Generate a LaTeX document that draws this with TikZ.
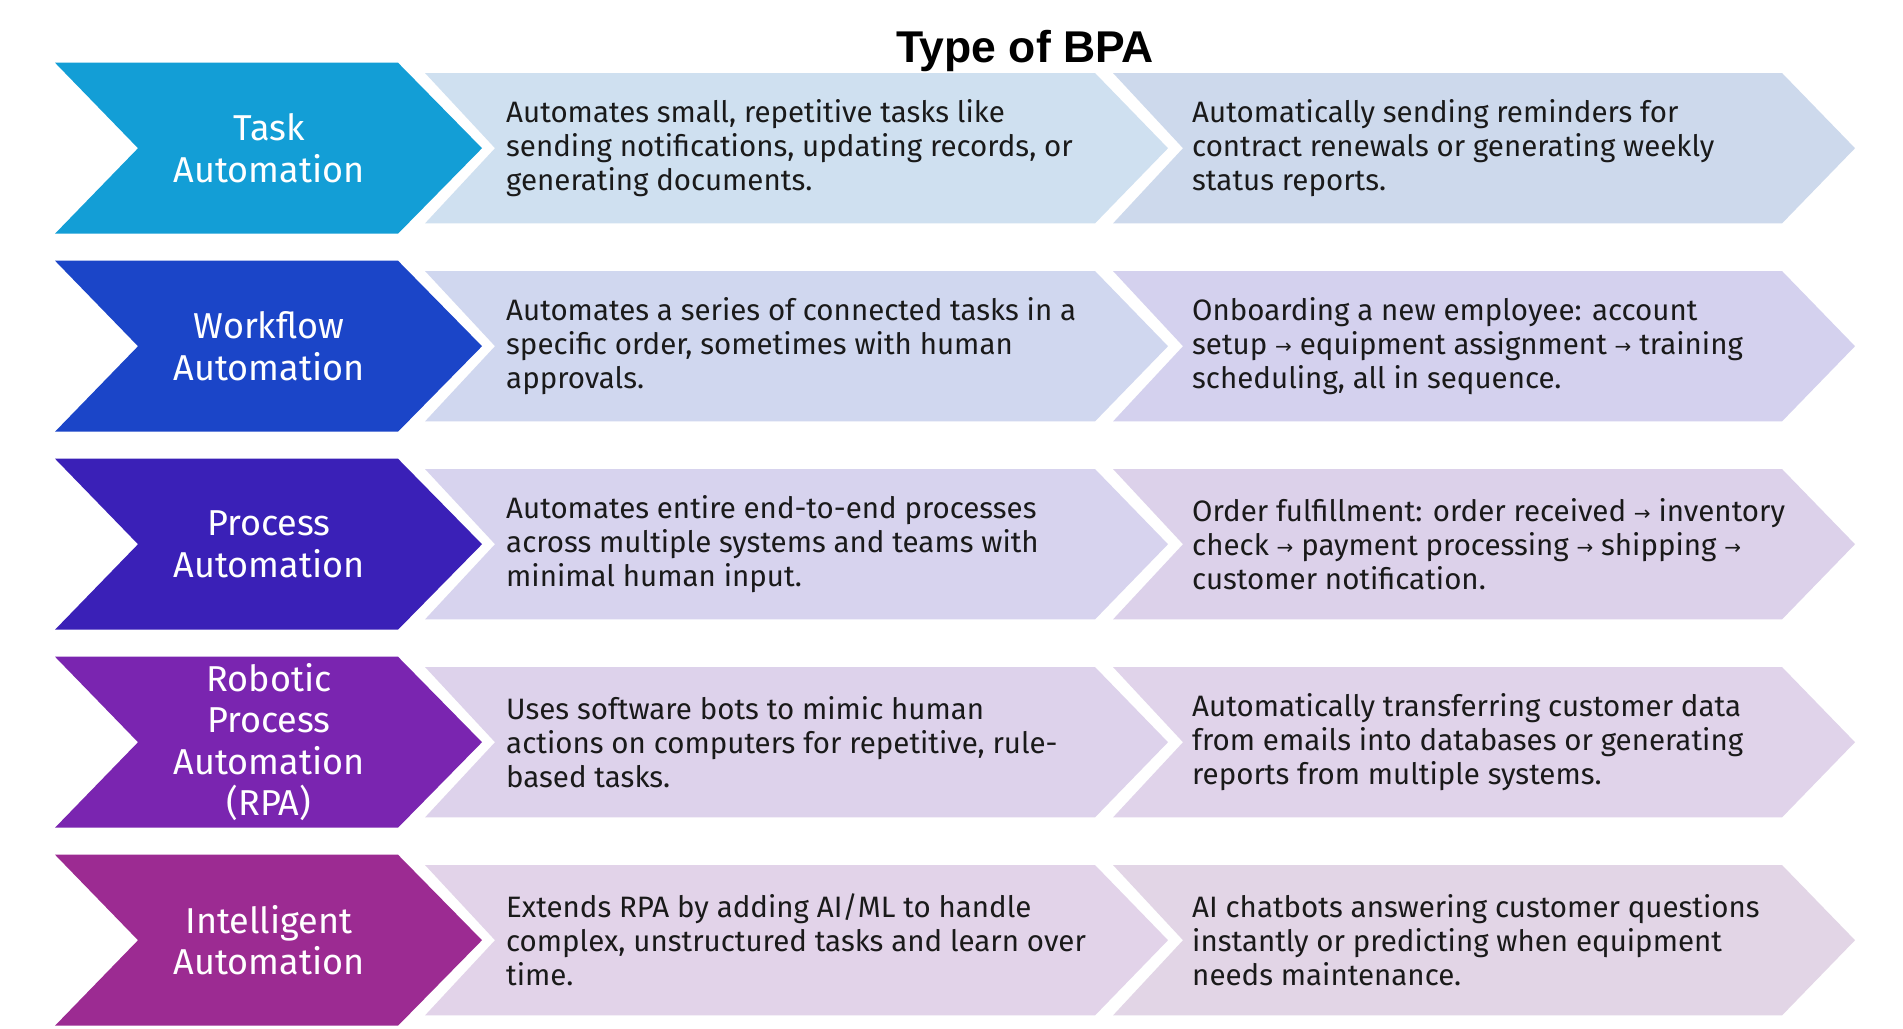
\documentclass[tikz,border=0pt]{standalone}
\usepackage{fontspec}
\setmainfont{Fira Sans}
\newfontfamily\titlefont{Liberation Sans}
\newfontfamily\symfont{DejaVu Sans}
\newcommand{\ar}{\raisebox{1.5pt}{\symfont\fontsize{20}{20}\selectfont →}}
\definecolor{cA}{HTML}{139ED6}
\definecolor{cB}{HTML}{1B45C8}
\definecolor{cC}{HTML}{3A20B7}
\definecolor{cD}{HTML}{7A25B0}
\definecolor{cE}{HTML}{9C2B92}
\definecolor{mA}{HTML}{CFE0F0}
\definecolor{rA}{HTML}{CDD9EC}
\definecolor{mB}{HTML}{D0D7EF}
\definecolor{rB}{HTML}{D4D1EE}
\definecolor{mC}{HTML}{D7D3EE}
\definecolor{rC}{HTML}{DCD1EA}
\definecolor{mD}{HTML}{DDD2EB}
\definecolor{rD}{HTML}{E0D3EA}
\definecolor{mE}{HTML}{E2D3E9}
\definecolor{rE}{HTML}{E2D5E6}
\definecolor{ink}{HTML}{1A1A1A}
\tikzset{
  labeltext/.style={text=white, align=center, font=\fontsize{36}{41.5}\selectfont, inner sep=0pt},
  desctext/.style={text=ink, align=left, anchor=west, font=\fontsize{29.5}{34}\selectfont, inner sep=0pt},
  titletext/.style={text=black, anchor=base, font=\titlefont\bfseries\fontsize{44.5}{50}\selectfont, inner sep=0pt}
}
% #1 shift, #2 left colour, #3 mid colour, #4 right colour, #5 name, #6 label, #7 mid text, #8 right text
\newcommand{\bparow}[8]{%
  \begin{scope}[shift={(0,#1)}]
    \fill[#2] (55,62.7) -- (398,62.7) -- (482,148.2) -- (398,233.7) -- (55,233.7) -- (138,148.2) -- cycle;
    \fill[#3] (425,73) -- (1095,73) -- (1168,148.2) -- (1095,223.4) -- (425,223.4) -- (495,148.2) -- cycle;
    \fill[#4] (1113,73) -- (1782,73) -- (1855,148.2) -- (1782,223.4) -- (1113,223.4) -- (1183,148.2) -- cycle;
    \node[labeltext] (#5-label) at (269,148.2) {#6};
    \node[desctext] (#5-mid) at (506,148.2) {#7};
    \node[desctext] (#5-right) at (1192,148.2) {#8};
  \end{scope}}
\begin{document}
\begin{tikzpicture}[x=1pt,y=-1pt]
\useasboundingbox (0,0) rectangle (1903,1028);
\fill[white] (0,0) rectangle (1903,1028);
\node[titletext] (title) at (1025,62) {Type of BPA};
\bparow{0}{cA}{mA}{rA}{task}{Task\\Automation}
 {Automates small, repetitive tasks like\\sending notifications, updating records, or\\generating documents.}
 {Automatically sending reminders for\\contract renewals or generating weekly\\status reports.}
\bparow{198}{cB}{mB}{rB}{workflow}{Workflow\\Automation}
 {Automates a series of connected tasks in a\\specific order, sometimes with human\\approvals.}
 {Onboarding a new employee: account\\setup \ar{} equipment assignment \ar{} training\\scheduling, all in sequence.}
\bparow{396}{cC}{mC}{rC}{process}{Process\\Automation}
 {Automates entire end-to-end processes\\across multiple systems and teams with\\minimal human input.}
 {Order fulfillment: order received \ar{} inventory\\check \ar{} payment processing \ar{} shipping \ar\\customer notification.}
\bparow{594}{cD}{mD}{rD}{rpa}{Robotic\\Process\\Automation\\(RPA)}
 {Uses software bots to mimic human\\actions on computers for repetitive, rule-\\based tasks.}
 {Automatically transferring customer data\\from emails into databases or generating\\reports from multiple systems.}
\bparow{792}{cE}{mE}{rE}{intelligent}{Intelligent\\Automation}
 {Extends RPA by adding AI/ML to handle\\complex, unstructured tasks and learn over\\time.}
 {AI chatbots answering customer questions\\instantly or predicting when equipment\\needs maintenance.}
\end{tikzpicture}
\end{document}
